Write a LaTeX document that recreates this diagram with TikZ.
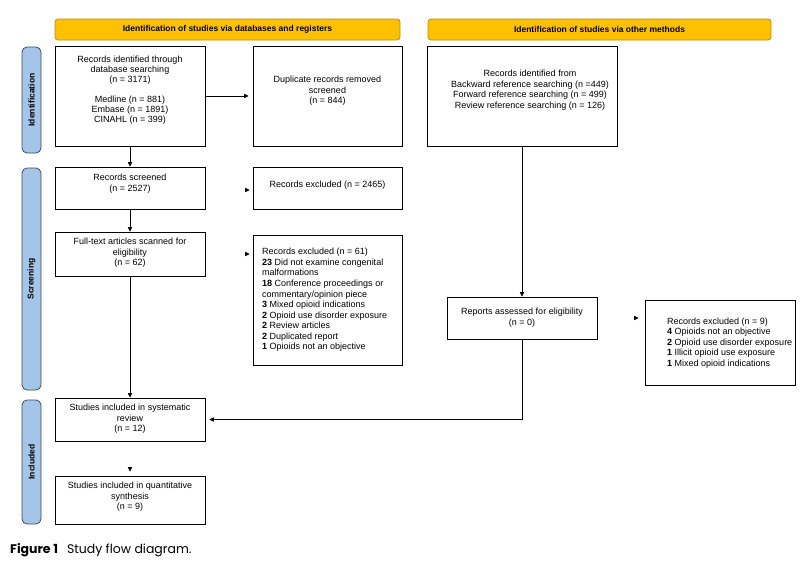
\documentclass[tikz,border=0pt]{standalone}
\usepackage{fontspec}
\setmainfont{Liberation Sans}
\newfontfamily\capfont{Poppins}
\usetikzlibrary{arrows.meta,calc}
\definecolor{bannerfill}{HTML}{FFC000}
\definecolor{bannerborder}{HTML}{BF9000}
\definecolor{phasefill}{HTML}{A4C5E8}
\definecolor{phaseborder}{HTML}{3F4A56}
\tikzset{
  box/.style={draw, line width=0.8pt, inner sep=0pt},
  txt/.style={align=center, inner sep=0pt, font=\fontsize{9}{10.5}\selectfont},
  ltxt/.style={align=left, inner sep=0pt, font=\fontsize{9}{10.55}\selectfont},
  banner/.style={draw=bannerborder, fill=bannerfill, rounded corners=3pt, line width=0.8pt,
    inner sep=0pt, minimum height=21pt, font=\bfseries\fontsize{8.5}{10}\selectfont},
  phase/.style={draw=phaseborder, fill=phasefill, rounded corners=5pt, line width=0.8pt,
    inner sep=0pt, minimum height=19pt, rotate=90, font=\bfseries\fontsize{8.5}{10}\selectfont},
  conn/.style={line width=0.8pt, -{Triangle[length=4.5pt,width=4.2pt]}},
}
\begin{document}
\begin{tikzpicture}[x=1pt,y=-1pt]
\useasboundingbox[fill=white] (0,0) rectangle (812,582);

% banners
\node[banner, minimum width=345pt] (b1) at (227.5,29.5) {Identification of studies via databases and registers};
\node[banner, minimum width=343pt] (b2) at (599.5,29.5) {Identification of studies via other methods};

% phase labels
\node[phase, minimum width=106pt] (p1) at (31.5,100) {Identification};
\node[phase, minimum width=222pt] (p2) at (31.5,279) {Screening};
\node[phase, minimum width=124pt] (p3) at (31.5,462) {Included};

% boxes
\node[box, minimum width=150pt, minimum height=100pt] (id1) at (130,96) {};
\node[txt, font=\fontsize{9}{10}\selectfont] (id1t) at (130,90) {Records identified through\\database searching\\(n = 3171)\\[10pt]Medline (n = 881)\\Embase (n = 1891)\\CINAHL (n = 399)};

\node[box, minimum width=149pt, minimum height=100pt] (dup) at (327.5,96) {};
\node[txt] (dupt) at (327.5,91) {Duplicate records removed\\screened\\(n = 844)};

\node[box, minimum width=190pt, minimum height=100pt] (oth) at (522,96) {};
\node[txt] (otht) at (530,90) {Records identified from\\Backward reference searching (n =449)\\Forward reference searching (n = 499)\\Review reference searching (n = 126)};

\node[box, minimum width=150pt, minimum height=42pt] (scr) at (130,188) {};
\node[txt] (scrt) at (130,183.5) {Records screened\\(n = 2527)};

\node[box, minimum width=149pt, minimum height=42pt] (exc1) at (327.5,188) {};
\node[txt] (exc1t) at (327.5,185) {Records excluded (n = 2465)};

\node[box, minimum width=150pt, minimum height=44pt] (ft) at (130,254) {};
\node[txt] (ftt) at (130,253) {Full-text articles scanned for\\eligibility\\(n = 62)};

\node[box, minimum width=149pt, minimum height=130pt] (exc2) at (327.5,300) {};
\node[ltxt, anchor=west] (exc2t) at (262,300) {Records excluded (n = 61)\\\textbf{23} Did not examine congenital\\malformations\\\textbf{18} Conference proceedings or\\commentary/opinion piece\\\textbf{3} Mixed opioid indications\\\textbf{2} Opioid use disorder exposure\\\textbf{2} Review articles\\\textbf{2} Duplicated report\\\textbf{1} Opioids not an objective};

\node[box, minimum width=150pt, minimum height=42pt] (rep) at (522,318) {};
\node[txt] (rept) at (522,317.5) {Reports assessed for eligibility\\(n = 0)};

\node[box, minimum width=150pt, minimum height=85pt] (exc9) at (720,342.5) {};
\node[ltxt, anchor=west] (exc9t) at (667,343) {Records excluded (n = 9)\\\textbf{4} Opioids not an objective\\\textbf{2} Opioid use disorder exposure\\\textbf{1} Illicit opioid use exposure\\\textbf{1} Mixed opioid indications};

\node[box, minimum width=150pt, minimum height=43pt] (sys) at (130,419.5) {};
\node[txt] (syst) at (130,419) {Studies included in systematic\\review\\(n = 12)};

\node[box, minimum width=150pt, minimum height=48pt] (qua) at (130,500) {};
\node[txt] (quat) at (130,497) {Studies included in quantitative\\synthesis\\(n = 9)};

% connectors
\draw[conn] (id1.south) -- (scr.north);
\draw[conn, shorten >=4pt] (id1.east) -- (dup.west);
\draw[conn, shorten <=40pt, shorten >=3pt] ($(scr.east)+(0,2)$) -- ($(exc1.west)+(0,2)$);
\draw[conn] (scr.south) -- (ft.north);
\draw[conn, shorten <=40pt, shorten >=3pt] (ft.east) -- (ft.east -| exc2.west);
\draw[conn] (ft.south) -- (sys.north);
\draw[conn, shorten <=28pt, shorten >=4pt] (sys.south) -- (qua.north);
\draw[conn] (oth.south) -- (rep.north);
\draw[conn, shorten <=40pt, shorten >=6pt] (rep.east) -- (rep.east -| exc9.west);
\draw[conn, shorten >=4pt] (rep.south) -- (rep.south |- sys.east) -- (sys.east);

% caption
\node[anchor=base west, inner sep=0pt, font=\capfont\fontsize{12.5}{14}\selectfont] (cap) at (10,553) {\textbf{Figure 1}\hspace{9pt}Study flow diagram.};
\end{tikzpicture}
\end{document}
